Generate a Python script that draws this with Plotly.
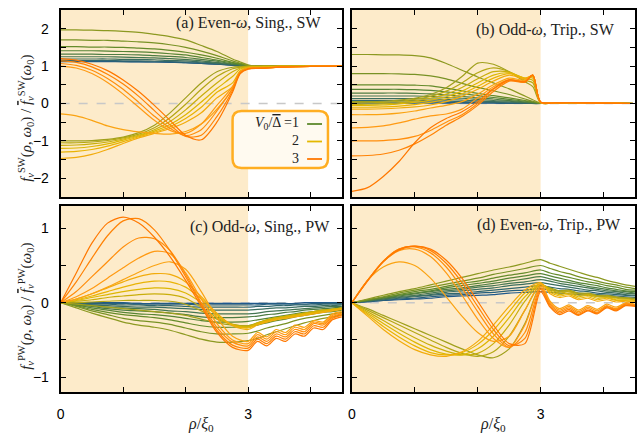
import plotly.graph_objects as go
from plotly.colors import sample_colorscale

W, H = 641, 436

# ---------------- data ----------------
V0 = [0.0, 0.15, 0.3, 0.45, 0.6, 0.75, 0.9, 1.05, 1.2, 1.35, 1.5,
      1.65, 1.8, 1.95, 2.1, 2.25, 2.4, 2.55, 2.7, 2.85, 3.0]

X_A = [0, 0.25, 0.5, 0.75, 1, 1.25, 1.5, 1.75, 2, 2.25, 2.5, 2.75, 2.875, 3, 3.25, 3.5, 4, 4.5]
X_B = [0, 0.25, 0.5, 0.75, 1, 1.25, 1.5, 1.75, 2, 2.25, 2.5, 2.75, 2.875, 3, 3.25, 3.5, 4, 4.5]
X_C = [0, 0.25, 0.5, 0.75, 1, 1.25, 1.5, 1.75, 2, 2.25, 2.5, 2.75, 3,
       3.15, 3.3, 3.45, 3.6, 3.75, 3.9, 4.05, 4.2, 4.35, 4.5]
X_D = [0, 0.25, 0.5, 0.75, 1, 1.25, 1.5, 1.75, 2, 2.25, 2.5, 2.75, 3,
       3.15, 3.3, 3.45, 3.6, 3.75, 3.9, 4.05, 4.2, 4.35, 4.5]

# (a) Even-omega, Singlet, SW
F_SW_SING = [
    [1.12,1.12,1.12,1.12,1.12,1.11,1.11,1.10,1.09,1.07,1.05,1.02,1.01,1.00,1.00,1.00,1.00,1.00],
    [1.13,1.13,1.13,1.13,1.12,1.12,1.11,1.11,1.09,1.07,1.05,1.03,1.01,1.00,1.00,1.00,1.00,1.00],
    [1.15,1.15,1.15,1.15,1.14,1.14,1.13,1.12,1.11,1.09,1.06,1.03,1.02,1.00,1.00,1.00,1.00,1.00],
    [1.19,1.19,1.19,1.19,1.18,1.18,1.17,1.15,1.14,1.11,1.08,1.04,1.02,1.01,1.00,1.00,1.00,1.00],
    [1.25,1.25,1.25,1.25,1.24,1.23,1.22,1.20,1.18,1.14,1.10,1.05,1.03,1.01,1.00,1.00,1.00,1.00],
    [1.32,1.32,1.32,1.31,1.31,1.30,1.28,1.26,1.23,1.18,1.13,1.06,1.04,1.01,1.00,1.00,1.00,1.00],
    [1.41,1.41,1.41,1.40,1.39,1.38,1.36,1.33,1.30,1.23,1.16,1.08,1.05,1.01,1.00,1.00,1.00,1.00],
    [1.52,1.52,1.51,1.51,1.50,1.48,1.46,1.42,1.37,1.30,1.21,1.10,1.06,1.02,1.00,1.00,1.00,1.00],
    [1.70,1.70,1.69,1.69,1.67,1.65,1.62,1.57,1.50,1.40,1.28,1.14,1.08,1.02,1.00,1.00,1.00,1.00],
    [1.97,1.97,1.96,1.95,1.93,1.90,1.85,1.79,1.70,1.55,1.39,1.19,1.11,1.03,1.00,1.00,1.00,1.00],
    [-1.00,-1.00,-0.99,-0.96,-0.90,-0.78,-0.58,-0.25,0.15,0.55,0.85,0.97,0.99,1.00,1.00,1.00,1.00,1.00],
    [-1.05,-1.05,-1.03,-0.99,-0.92,-0.82,-0.65,-0.38,-0.02,0.38,0.72,0.93,0.97,0.99,1.00,1.00,1.00,1.00],
    [-1.12,-1.11,-1.08,-1.03,-0.95,-0.85,-0.70,-0.48,-0.17,0.20,0.55,0.85,0.95,0.98,0.99,1.00,1.00,1.00],
    [-1.20,-1.19,-1.15,-1.08,-0.98,-0.87,-0.74,-0.56,-0.30,0.04,0.40,0.72,0.92,0.97,0.98,0.99,1.00,1.00],
    [-1.30,-1.28,-1.23,-1.14,-1.02,-0.89,-0.77,-0.62,-0.40,-0.10,0.30,0.55,0.88,0.96,0.97,0.99,1.00,1.00],
    [-1.47,-1.44,-1.36,-1.23,-1.07,-0.92,-0.80,-0.67,-0.50,-0.25,0.15,0.45,0.85,0.95,0.96,0.98,0.99,1.00],
    [-0.28,-0.33,-0.45,-0.60,-0.70,-0.76,-0.80,-0.82,-0.75,-0.55,-0.15,0.40,0.85,0.94,0.95,0.97,0.99,1.00],
    [1.00,0.95,0.80,0.56,0.25,-0.10,-0.45,-0.72,-0.80,-0.55,-0.05,0.45,0.85,0.94,0.95,0.97,0.99,1.00],
    [1.07,1.02,0.89,0.67,0.38,0.03,-0.34,-0.66,-0.86,-0.70,-0.20,0.40,0.83,0.93,0.95,0.97,0.99,1.00],
    [1.14,1.10,0.98,0.78,0.52,0.19,-0.19,-0.57,-0.88,-0.85,-0.35,0.35,0.82,0.93,0.95,0.97,0.99,1.00],
    [1.20,1.16,1.05,0.88,0.63,0.32,-0.05,-0.45,-0.85,-0.97,-0.50,0.30,0.80,0.92,0.94,0.97,0.99,1.00],
]

# (b) Odd-omega, Triplet, SW
F_SW_TRIP = [
    [0.01,0.01,0.01,0.01,0.01,0.01,0.01,0.01,0.01,0.01,0.00,0.00,0.00,0.00,0.01,0.01,0.01,0.00],
    [0.04,0.04,0.04,0.04,0.04,0.04,0.03,0.03,0.02,0.02,0.01,0.01,0.00,0.00,0.01,0.01,0.01,0.00],
    [0.08,0.08,0.08,0.08,0.08,0.07,0.07,0.05,0.04,0.03,0.02,0.01,0.01,0.00,0.01,0.01,0.01,0.00],
    [0.13,0.13,0.13,0.13,0.13,0.12,0.11,0.09,0.07,0.05,0.04,0.02,0.01,0.00,0.01,0.01,0.01,0.00],
    [0.20,0.20,0.20,0.20,0.20,0.19,0.16,0.14,0.11,0.08,0.06,0.03,0.02,0.00,0.02,0.01,0.01,0.00],
    [0.28,0.28,0.28,0.28,0.27,0.26,0.23,0.19,0.15,0.12,0.08,0.04,0.02,0.00,0.02,0.01,0.01,0.00],
    [0.38,0.38,0.38,0.38,0.37,0.35,0.31,0.26,0.21,0.16,0.11,0.06,0.03,0.00,0.02,0.02,0.01,0.00],
    [0.50,0.50,0.50,0.50,0.49,0.47,0.41,0.34,0.27,0.21,0.15,0.08,0.04,0.01,0.02,0.02,0.01,0.00],
    [0.80,0.80,0.80,0.79,0.78,0.74,0.66,0.54,0.43,0.34,0.24,0.12,0.06,0.01,0.02,0.02,0.01,0.00],
    [1.31,1.31,1.30,1.30,1.28,1.22,1.07,0.89,0.71,0.55,0.39,0.20,0.10,0.01,0.02,0.02,0.01,0.00],
    [0.05,0.05,0.06,0.09,0.14,0.24,0.42,0.72,1.08,1.05,0.85,0.58,0.45,0.02,0.02,0.02,0.01,0.00],
    [0.02,0.02,0.03,0.06,0.11,0.19,0.33,0.55,0.82,0.95,0.85,0.62,0.55,0.02,0.02,0.02,0.01,0.00],
    [-0.02,-0.02,-0.01,0.02,0.07,0.14,0.25,0.43,0.66,0.85,0.84,0.66,0.62,0.02,0.02,0.02,0.01,0.00],
    [-0.05,-0.05,-0.04,-0.01,0.03,0.09,0.18,0.33,0.55,0.76,0.82,0.68,0.68,0.03,0.02,0.02,0.01,0.00],
    [-0.10,-0.10,-0.09,-0.07,-0.03,0.03,0.12,0.26,0.46,0.68,0.80,0.68,0.72,0.03,0.02,0.02,0.01,0.00],
    [-0.15,-0.15,-0.14,-0.12,-0.09,-0.04,0.05,0.19,0.38,0.60,0.76,0.66,0.75,0.03,0.02,0.02,0.01,0.00],
    [-0.30,-0.30,-0.29,-0.26,-0.20,-0.12,-0.05,0.05,0.25,0.50,0.68,0.62,0.76,0.03,0.02,0.02,0.01,0.00],
    [-0.65,-0.64,-0.60,-0.52,-0.42,-0.33,-0.28,-0.15,0.15,0.45,0.64,0.60,0.76,0.03,0.02,0.02,0.01,0.00],
    [-1.00,-1.00,-0.99,-0.96,-0.88,-0.72,-0.50,-0.30,0.00,0.38,0.62,0.58,0.76,0.04,0.02,0.02,0.01,0.00],
    [-1.40,-1.39,-1.35,-1.25,-1.08,-0.85,-0.58,-0.35,-0.05,0.32,0.60,0.57,0.76,0.04,0.02,0.02,0.01,0.00],
    [-2.35,-2.25,-1.95,-1.55,-1.05,-0.65,-0.40,-0.22,0.05,0.40,0.63,0.58,0.76,0.04,0.02,0.02,0.01,0.00],
]

# (c) Odd-omega, Singlet, PW
F_PW_SING = [
    [0,0,0,0,0,-0.01,-0.01,-0.01,-0.01,-0.01,-0.01,-0.01,-0.01,-0.01,-0.01,-0.01,-0.01,-0.01,0,0,0,0,0],
    [0,0,-0.01,-0.01,-0.01,-0.02,-0.02,-0.02,-0.02,-0.03,-0.03,-0.03,-0.03,-0.03,-0.02,-0.02,-0.02,-0.02,-0.02,-0.01,-0.01,-0.01,-0.01],
    [0,-0.01,-0.02,-0.02,-0.03,-0.03,-0.04,-0.04,-0.05,-0.06,-0.06,-0.06,-0.06,-0.05,-0.05,-0.04,-0.04,-0.03,-0.03,-0.03,-0.02,-0.02,-0.02],
    [0,-0.01,-0.03,-0.04,-0.05,-0.06,-0.06,-0.07,-0.08,-0.09,-0.10,-0.10,-0.10,-0.09,-0.08,-0.07,-0.07,-0.06,-0.05,-0.05,-0.04,-0.04,-0.03],
    [0,-0.02,-0.04,-0.06,-0.07,-0.08,-0.09,-0.11,-0.12,-0.14,-0.15,-0.15,-0.15,-0.14,-0.12,-0.11,-0.10,-0.09,-0.08,-0.07,-0.06,-0.05,-0.05],
    [0,-0.03,-0.05,-0.08,-0.10,-0.11,-0.12,-0.14,-0.16,-0.19,-0.20,-0.20,-0.19,-0.18,-0.16,-0.15,-0.13,-0.12,-0.10,-0.09,-0.08,-0.07,-0.06],
    [0,-0.03,-0.07,-0.10,-0.13,-0.15,-0.16,-0.18,-0.21,-0.24,-0.26,-0.26,-0.25,-0.23,-0.21,-0.19,-0.17,-0.15,-0.13,-0.12,-0.10,-0.09,-0.08],
    [0,-0.04,-0.09,-0.13,-0.16,-0.18,-0.20,-0.23,-0.27,-0.31,-0.33,-0.33,-0.32,-0.30,-0.27,-0.24,-0.22,-0.19,-0.17,-0.15,-0.13,-0.12,-0.10],
    [0,-0.05,-0.11,-0.16,-0.21,-0.24,-0.26,-0.29,-0.34,-0.39,-0.42,-0.42,-0.41,-0.38,-0.34,-0.31,-0.28,-0.24,-0.21,-0.19,-0.17,-0.15,-0.13],
    [0,-0.07,-0.14,-0.20,-0.26,-0.30,-0.33,-0.37,-0.43,-0.49,-0.53,-0.53,-0.51,-0.48,-0.43,-0.39,-0.35,-0.31,-0.27,-0.24,-0.21,-0.19,-0.16],
    [0,-0.02,-0.04,-0.06,-0.08,-0.10,-0.12,-0.14,-0.17,-0.22,-0.27,-0.30,-0.31,-0.28,-0.24,-0.21,-0.19,-0.17,-0.15,-0.13,-0.11,-0.09,-0.08],
    [0,0.00,0.01,0.02,0.03,0.03,0.03,0.02,-0.02,-0.11,-0.22,-0.29,-0.31,-0.27,-0.23,-0.20,-0.18,-0.16,-0.14,-0.12,-0.10,-0.09,-0.07],
    [0,0.02,0.04,0.07,0.09,0.11,0.12,0.11,0.06,-0.06,-0.20,-0.29,-0.32,-0.27,-0.23,-0.20,-0.18,-0.16,-0.14,-0.12,-0.10,-0.09,-0.07],
    [0,0.03,0.07,0.11,0.15,0.18,0.20,0.19,0.13,0.00,-0.17,-0.30,-0.33,-0.28,-0.24,-0.21,-0.19,-0.17,-0.15,-0.13,-0.11,-0.09,-0.08],
    [0,0.04,0.09,0.15,0.21,0.26,0.29,0.28,0.21,0.05,-0.15,-0.30,-0.34,-0.29,-0.25,-0.22,-0.20,-0.18,-0.16,-0.14,-0.12,-0.10,-0.08],
    [0,0.05,0.12,0.20,0.28,0.35,0.39,0.38,0.28,0.08,-0.14,-0.31,-0.36,-0.30,-0.26,-0.23,-0.21,-0.19,-0.17,-0.15,-0.13,-0.11,-0.09],
    [0,0.05,0.12,0.21,0.31,0.41,0.50,0.55,0.45,0.15,-0.20,-0.45,-0.52,-0.40,-0.46,-0.36,-0.40,-0.30,-0.33,-0.24,-0.26,-0.15,-0.12],
    [0,0.08,0.19,0.33,0.47,0.60,0.69,0.66,0.40,0.05,-0.28,-0.50,-0.55,-0.43,-0.49,-0.39,-0.43,-0.33,-0.36,-0.26,-0.28,-0.17,-0.14],
    [0,0.15,0.35,0.55,0.75,0.87,0.86,0.70,0.38,0.00,-0.33,-0.53,-0.58,-0.46,-0.52,-0.42,-0.46,-0.36,-0.39,-0.28,-0.30,-0.19,-0.15],
    [0,0.28,0.60,0.90,1.10,1.13,0.98,0.70,0.35,-0.02,-0.37,-0.57,-0.61,-0.49,-0.55,-0.45,-0.49,-0.39,-0.42,-0.31,-0.33,-0.21,-0.17],
    [0,0.40,0.80,1.07,1.15,1.07,0.88,0.62,0.30,-0.05,-0.40,-0.60,-0.64,-0.52,-0.58,-0.48,-0.52,-0.42,-0.45,-0.34,-0.36,-0.23,-0.19],
]

# (d) Even-omega, Triplet, PW
F_PW_TRIP = [
    [0,0.01,0.03,0.04,0.05,0.06,0.08,0.09,0.10,0.11,0.13,0.14,0.15,0.14,0.13,0.12,0.11,0.10,0.09,0.08,0.07,0.06,0.06],
    [0,0.02,0.03,0.05,0.06,0.08,0.10,0.11,0.13,0.14,0.16,0.17,0.19,0.17,0.16,0.15,0.13,0.12,0.11,0.10,0.09,0.08,0.07],
    [0,0.02,0.04,0.06,0.08,0.10,0.12,0.13,0.15,0.17,0.19,0.21,0.23,0.21,0.19,0.18,0.16,0.15,0.13,0.12,0.11,0.10,0.09],
    [0,0.02,0.05,0.07,0.09,0.11,0.14,0.16,0.18,0.20,0.23,0.25,0.27,0.25,0.23,0.21,0.19,0.17,0.16,0.14,0.13,0.11,0.10],
    [0,0.03,0.05,0.08,0.10,0.13,0.16,0.18,0.21,0.23,0.26,0.28,0.31,0.29,0.26,0.24,0.22,0.20,0.18,0.16,0.15,0.13,0.12],
    [0,0.03,0.06,0.09,0.12,0.15,0.18,0.20,0.23,0.26,0.29,0.32,0.35,0.32,0.29,0.27,0.25,0.22,0.20,0.18,0.16,0.15,0.13],
    [0,0.03,0.07,0.10,0.13,0.16,0.20,0.23,0.26,0.29,0.33,0.36,0.39,0.36,0.33,0.30,0.27,0.25,0.23,0.20,0.18,0.16,0.15],
    [0,0.04,0.07,0.11,0.15,0.18,0.22,0.26,0.29,0.33,0.37,0.40,0.44,0.40,0.37,0.34,0.31,0.28,0.26,0.23,0.21,0.18,0.17],
    [0,0.04,0.08,0.13,0.17,0.21,0.25,0.29,0.33,0.38,0.42,0.46,0.50,0.46,0.42,0.39,0.35,0.32,0.29,0.26,0.24,0.21,0.19],
    [0,0.05,0.10,0.15,0.19,0.24,0.29,0.34,0.39,0.44,0.48,0.53,0.58,0.53,0.49,0.45,0.41,0.37,0.34,0.30,0.27,0.24,0.22],
    [0,-0.08,-0.17,-0.26,-0.35,-0.44,-0.53,-0.62,-0.70,-0.74,-0.62,-0.28,0.22,0.20,0.16,0.17,0.13,0.13,0.10,0.10,0.08,0.07,0.06],
    [0,-0.10,-0.20,-0.30,-0.40,-0.50,-0.60,-0.68,-0.72,-0.66,-0.45,-0.10,0.24,0.19,0.15,0.16,0.12,0.12,0.09,0.09,0.07,0.06,0.05],
    [0,-0.12,-0.24,-0.36,-0.47,-0.57,-0.65,-0.70,-0.68,-0.55,-0.30,0.02,0.25,0.18,0.13,0.15,0.10,0.11,0.08,0.08,0.06,0.05,0.04],
    [0,-0.14,-0.28,-0.41,-0.53,-0.63,-0.69,-0.70,-0.62,-0.45,-0.20,0.08,0.25,0.16,0.11,0.13,0.08,0.10,0.06,0.07,0.04,0.04,0.03],
    [0,-0.16,-0.32,-0.46,-0.58,-0.67,-0.70,-0.67,-0.56,-0.37,-0.12,0.13,0.25,0.14,0.09,0.11,0.06,0.08,0.04,0.06,0.03,0.03,0.02],
    [0,-0.18,-0.36,-0.51,-0.63,-0.70,-0.72,-0.66,-0.52,-0.30,-0.05,0.17,0.27,0.12,0.07,0.09,0.04,0.06,0.02,0.04,0.01,0.02,0.01],
    [0,0.30,0.48,0.55,0.50,0.33,0.08,-0.18,-0.40,-0.52,-0.45,-0.10,0.25,0.02,-0.08,-0.03,-0.10,-0.04,-0.09,-0.02,-0.06,0.00,-0.02],
    [0,0.30,0.55,0.70,0.72,0.62,0.40,0.10,-0.22,-0.48,-0.60,-0.30,0.22,0.00,-0.10,-0.05,-0.12,-0.06,-0.11,-0.04,-0.08,-0.01,-0.03],
    [0,0.30,0.56,0.72,0.75,0.67,0.48,0.20,-0.12,-0.42,-0.60,-0.40,0.20,-0.02,-0.12,-0.07,-0.14,-0.08,-0.13,-0.05,-0.09,-0.02,-0.04],
    [0,0.30,0.56,0.72,0.76,0.70,0.53,0.27,-0.05,-0.36,-0.58,-0.48,0.18,-0.04,-0.14,-0.09,-0.16,-0.10,-0.14,-0.06,-0.10,-0.03,-0.04],
    [0,0.29,0.55,0.71,0.76,0.72,0.57,0.33,0.02,-0.30,-0.55,-0.55,0.15,-0.06,-0.16,-0.11,-0.17,-0.11,-0.15,-0.07,-0.11,-0.04,-0.05],
]

PANEL_LABELS = ["(a) Even-<i>ω</i>, Sing., SW", "(b) Odd-<i>ω</i>, Trip., SW",
                "(c) Odd-<i>ω</i>, Sing., PW", "(d) Even-<i>ω</i>, Trip., PW"]
LEGEND_V0 = [1, 2, 3]
LEGEND_TEXT = "<i>V</i><sub>0</sub>/<span style='text-decoration:overline'>Δ</span> =1<br>2<br>3"
SHADE_X = [0, 3]
X_RANGE = [0, 4.5]
X_TICKS = [0, 3]
X_TICKTEXT = ["0", "3"]
X_MINOR = [1, 2, 4]
Y_RANGE_SW = [-2.5, 2.5]
Y_TICKS_SW = [-2, -1, 0, 1, 2]
Y_MINOR_SW = [-1.5, -0.5, 0.5, 1.5]
Y_RANGE_PW = [-1.2, 1.3]
Y_TICKS_PW = [-1, 0, 1]
Y_MINOR_PW = [-0.5, 0.5]
FBAR = "<span style='text-decoration:overline'><i>f</i></span>"
YTITLE_SW = ("<i>f</i><sub><i>ν</i></sub><sup>SW</sup>(<i>ρ</i>, <i>ω</i><sub>0</sub>) / " + FBAR +
             "<sub><i>ν</i></sub><sup>SW</sup>(<i>ω</i><sub>0</sub>)")
YTITLE_PW = ("<i>f</i><sub><i>ν</i></sub><sup>PW</sup>(<i>ρ</i>, <i>ω</i><sub>0</sub>) / " + FBAR +
             "<sub><i>ν</i></sub><sup>PW</sup>(<i>ω</i><sub>0</sub>)")
XTITLE = "<i>ρ</i>/<i>ξ</i><sub>0</sub>"

# ---------------- styling ----------------
CSCALE = [[0.0, "rgb(30,88,140)"], [0.33, "rgb(92,136,44)"], [0.5, "rgb(160,160,28)"],
          [0.667, "rgb(228,184,0)"], [0.83, "rgb(255,158,22)"], [1.0, "rgb(255,120,0)"]]
COLORS = sample_colorscale(CSCALE, [v / 3.0 for v in V0])
LEG_COLORS = sample_colorscale(CSCALE, [v / 3.0 for v in LEGEND_V0])
SHADE_COLOR = "#fdebca"
SERIF = "Liberation Serif"
SANS = "Liberation Sans"


def fx(p):
    return p / W


def fy(p):
    return 1 - p / H


panels = [
    dict(ax="", X=X_A, Y=F_SW_SING, xd=(57, 340), yd=(10, 197), yr=Y_RANGE_SW, yt=Y_TICKS_SW,
         ym=Y_MINOR_SW, xlab=False, ylab=True, label=PANEL_LABELS[0], lx=322, ly=23),
    dict(ax="2", X=X_B, Y=F_SW_TRIP, xd=(350, 635), yd=(10, 197), yr=Y_RANGE_SW, yt=Y_TICKS_SW,
         ym=Y_MINOR_SW, xlab=False, ylab=False, label=PANEL_LABELS[1], lx=617, ly=30),
    dict(ax="3", X=X_C, Y=F_PW_SING, xd=(57, 340), yd=(206, 392), yr=Y_RANGE_PW, yt=Y_TICKS_PW,
         ym=Y_MINOR_PW, xlab=True, ylab=True, label=PANEL_LABELS[2], lx=330, ly=227),
    dict(ax="4", X=X_D, Y=F_PW_TRIP, xd=(350, 635), yd=(206, 392), yr=Y_RANGE_PW, yt=Y_TICKS_PW,
         ym=Y_MINOR_PW, xlab=True, ylab=False, label=PANEL_LABELS[3], lx=623, ly=225),
]

fig = go.Figure()
shapes = []
annotations = []
layout_axes = {}

for p in panels:
    xa, ya = "x" + p["ax"], "y" + p["ax"]
    for row, col in zip(p["Y"], COLORS):
        assert len(row) == len(p["X"])
        fig.add_trace(go.Scatter(x=p["X"], y=row, mode="lines", xaxis=xa, yaxis=ya,
                                 line=dict(color=col, width=1.2, shape="spline", smoothing=0.8),
                                 showlegend=False, hoverinfo="skip"))
    common = dict(showline=True, linecolor="black", linewidth=2, mirror="ticks",
                  ticks="inside", ticklen=5, tickwidth=1, tickcolor="black",
                  showgrid=False, zeroline=False,
                  tickfont=dict(family=SANS, size=14, color="black"))
    layout_axes["xaxis" + p["ax"]] = dict(
        domain=[fx(p["xd"][0]), fx(p["xd"][1])], anchor=ya, range=X_RANGE,
        tickmode="array", tickvals=X_TICKS, ticktext=X_TICKTEXT,
        minor=dict(tickmode="array", tickvals=X_MINOR, ticks="inside", ticklen=5,
                   tickwidth=1, tickcolor="black", showgrid=False),
        showticklabels=p["xlab"], ticklabelstandoff=8, **common)
    layout_axes["yaxis" + p["ax"]] = dict(
        domain=[fy(p["yd"][1]), fy(p["yd"][0])], anchor=xa, range=p["yr"],
        tickmode="array", tickvals=p["yt"],
        minor=dict(tickmode="array", tickvals=p["ym"], ticks="inside", ticklen=5,
                   tickwidth=1, tickcolor="black", showgrid=False),
        showticklabels=p["ylab"], ticklabelstandoff=7, **common)
    shapes.append(dict(type="rect", xref=xa, yref=ya + " domain", x0=SHADE_X[0], x1=SHADE_X[1],
                       y0=0, y1=1, fillcolor=SHADE_COLOR, line=dict(width=0), layer="below"))
    shapes.append(dict(type="line", xref=xa, yref=ya, x0=X_RANGE[0], x1=X_RANGE[1], y0=0, y1=0,
                       line=dict(color="#c8c8c8", width=1.5, dash="dash"), layer="below"))
    annotations.append(dict(text=p["label"], xref="paper", yref="paper", x=fx(p["lx"]), y=fy(p["ly"]),
                            xanchor="right", yanchor="middle", showarrow=False,
                            font=dict(family=SERIF, size=16, color="#222")))

# axis titles
annotations.append(dict(text=YTITLE_SW, xref="paper", yref="paper", x=fx(22), y=fy(118), textangle=-90,
                        xanchor="center", yanchor="middle", showarrow=False,
                        font=dict(family=SERIF, size=15, color="#222")))
annotations.append(dict(text=YTITLE_PW, xref="paper", yref="paper", x=fx(22), y=fy(306), textangle=-90,
                        xanchor="center", yanchor="middle", showarrow=False,
                        font=dict(family=SERIF, size=15, color="#222")))
for cx in (198, 492):
    annotations.append(dict(text=XTITLE, xref="paper", yref="paper", x=fx(cx), y=fy(424),
                            xanchor="center", yanchor="middle", showarrow=False,
                            font=dict(family=SERIF, size=16, color="#222")))

# legend (manual, text left of line sample)
x0, y0, x1, y1, r = 230, 111, 326, 168, 9
pts = [(x0 + r, y0), (x1 - r, y0), (x1, y0), (x1, y0 + r), (x1, y1 - r), (x1, y1), (x1 - r, y1),
       (x0 + r, y1), (x0, y1), (x0, y1 - r), (x0, y0 + r), (x0, y0), (x0 + r, y0)]
P = [(fx(a), fy(b)) for a, b in pts]
path = ("M {0[0]},{0[1]} L {1[0]},{1[1]} Q {2[0]},{2[1]} {3[0]},{3[1]} L {4[0]},{4[1]} "
        "Q {5[0]},{5[1]} {6[0]},{6[1]} L {7[0]},{7[1]} Q {8[0]},{8[1]} {9[0]},{9[1]} "
        "L {10[0]},{10[1]} Q {11[0]},{11[1]} {12[0]},{12[1]} Z").format(*P)
shapes.append(dict(type="path", xref="paper", yref="paper", path=path, fillcolor="#fffaf0",
                   line=dict(color="#ffae22", width=2.5), layer="above"))
annotations.append(dict(text=LEGEND_TEXT, xref="paper", yref="paper", x=fx(299), y=fy(140),
                        xanchor="right", yanchor="middle", align="right", showarrow=False,
                        font=dict(family=SERIF, size=14, color="#222")))
for i, col in enumerate(LEG_COLORS):
    yy = 124 + 17.5 * i
    shapes.append(dict(type="line", xref="paper", yref="paper", x0=fx(305), x1=fx(320),
                       y0=fy(yy), y1=fy(yy), line=dict(color=col, width=1.8), layer="above"))

fig.update_layout(width=W, height=H, autosize=False, margin=dict(l=0, r=0, t=0, b=0),
                  paper_bgcolor="white", plot_bgcolor="white", showlegend=False,
                  shapes=shapes, annotations=annotations, **layout_axes)

fig.write_html("out.html")
